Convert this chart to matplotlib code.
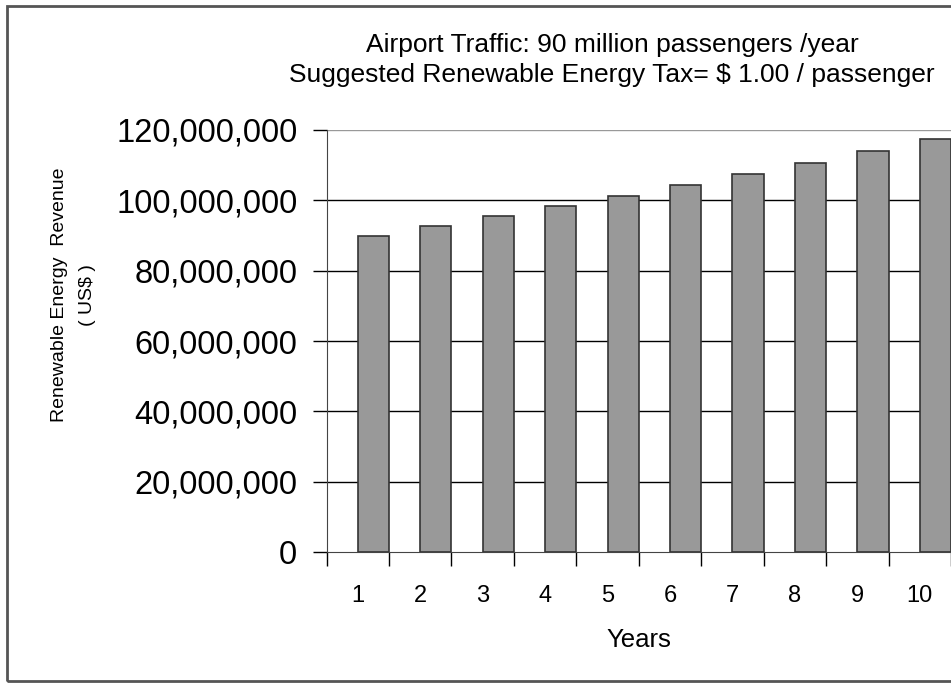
import matplotlib
matplotlib.use("Agg")
import matplotlib.pyplot as plt
from matplotlib.patches import Rectangle
from matplotlib.ticker import FuncFormatter

# data
years = [1, 2, 3, 4, 5, 6, 7, 8, 9, 10]
revenue = [90.0e6, 92.7e6, 95.5e6, 98.3e6, 101.3e6, 104.3e6, 107.5e6, 110.7e6, 114.0e6, 117.4e6]
y_ticks = [0, 20e6, 40e6, 60e6, 80e6, 100e6, 120e6]
title_lines = ["Airport Traffic: 90 million passengers /year",
               "Suggested Renewable Energy Tax= $ 1.00 / passenger"]

plt.rcParams['font.family'] = ['Liberation Sans', 'DejaVu Sans']

fig = plt.figure(figsize=(9.51, 6.83), dpi=100)
W, H = 951, 683

# outer frame of the chart (right side is cut off in the original)
fig.patches.append(Rectangle((7 / W, 1 - 681 / H), 1.2, (681 - 6) / H,
                             transform=fig.transFigure, fill=False,
                             edgecolor='#555555', linewidth=2))

ax = fig.add_axes([326.5 / W, 1 - 552 / H, (951 - 326.5) / W, 422 / H])

ax.bar(years, revenue, width=0.5, align='edge', color='#999999',
       edgecolor='#333333', linewidth=1.2, zorder=3)

ax.set_xlim(0.5, 10.5)
ax.set_ylim(0, 120e6)

# gridlines
for v in y_ticks[1:]:
    ax.axhline(v, color='#999999' if v == y_ticks[-1] else 'black',
               linewidth=1, zorder=1)

ax.set_yticks(y_ticks)
ax.yaxis.set_major_formatter(FuncFormatter(lambda v, p: f"{int(v):,}"))
ax.tick_params(axis='y', length=10, width=1, labelsize=23.5, pad=11)

# labels sit at bar left edges, tick marks at the bar right edges
ax.set_xticks(years)
ax.set_xticklabels([str(y) for y in years])
ax.tick_params(axis='x', which='major', length=0, labelsize=17, pad=24)
ax.set_xticks([y + 0.5 for y in [0] + years], minor=True)
ax.tick_params(axis='x', which='minor', length=10, width=1)

for s in ['top', 'right']:
    ax.spines[s].set_visible(False)
ax.spines['left'].set_color('#444444')
ax.spines['bottom'].set_color('#444444')

ax.set_xlabel("Years", fontsize=18.5, labelpad=15)

fig.text(60 / W, 1 - 295 / H, "Renewable Energy  Revenue", rotation=90,
         fontsize=14, ha='center', va='center')
fig.text(87 / W, 1 - 295 / H, "( US$ )", rotation=90,
         fontsize=14, ha='center', va='center')

fig.text(612 / W, 1 - 45 / H, title_lines[0], fontsize=19, ha='center', va='center')
fig.text(612 / W, 1 - 75 / H, title_lines[1], fontsize=19, ha='center', va='center')

fig.savefig("out.png", dpi=100)
